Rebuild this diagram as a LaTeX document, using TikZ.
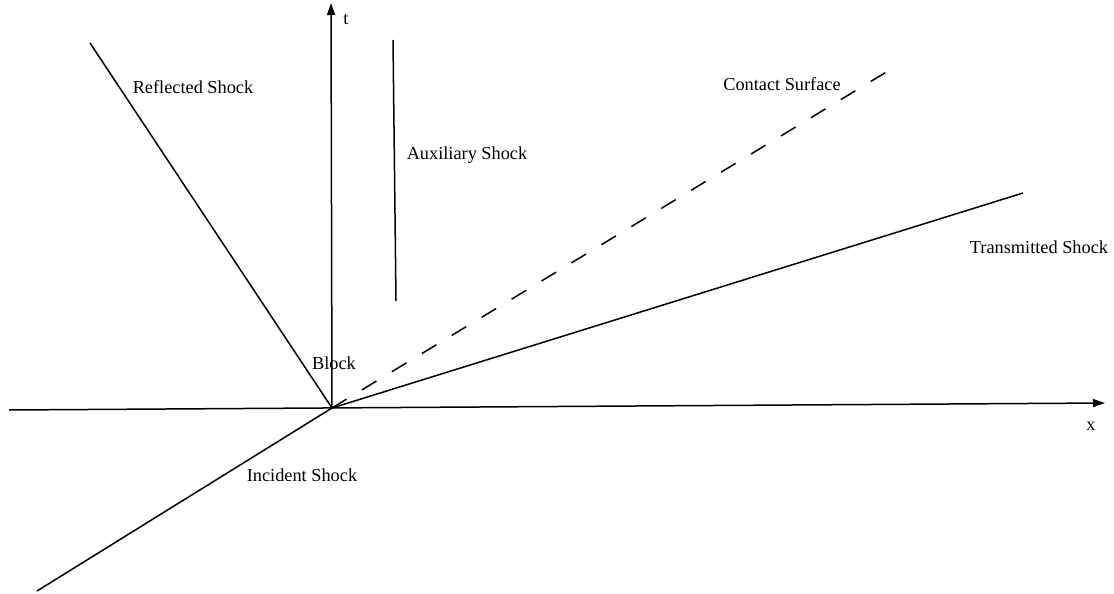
\documentclass[tikz,border=0pt]{standalone}
\usepackage{fontspec}
\setmainfont{Liberation Serif}
\usetikzlibrary{arrows.meta}
\begin{document}
\begin{tikzpicture}[x=1pt,y=-1pt,
  line/.style={line width=1.5pt,black},
  axis/.style={line, -{Triangle[length=12pt,width=8pt]}},
  lbl/.style={font=\fontsize{18.3}{20}\selectfont, inner sep=0pt},
  dashline/.style={line, dash pattern=on 17pt off 18pt}]
\useasboundingbox (0,0) rectangle (1114,594);
\coordinate (O) at (332,408);
\coordinate (xl) at (9,410);
\coordinate (xr) at (1105,403);
\coordinate (tt) at (331,3);
\coordinate (rs) at (90,43);
\coordinate (as1) at (393,40);
\coordinate (as2) at (396,301);
\coordinate (cs) at (888,71);
\coordinate (ts) at (1023,193);
\coordinate (is) at (37,591);
\draw[axis] (xl) -- (xr);
\draw[axis] (O) -- (tt);
\draw[line] (O) -- (rs);
\draw[line] (as1) -- (as2);
\draw[dashline] (O) -- (cs);
\draw[line] (O) -- (ts);
\draw[line] (is) -- (O);
\node[lbl] (lt) at (346,19) {t};
\node[lbl] (lx) at (1091,426) {x};
\node[lbl] (lrs) at (193,87) {Reflected Shock};
\node[lbl] (las) at (467,155) {Auxiliary Shock};
\node[lbl] (lcs) at (782,84) {Contact Surface};
\node[lbl] (lts) at (1039,247) {Transmitted Shock};
\node[lbl] (lbk) at (334,363) {Block};
\node[lbl] (lis) at (302,475) {Incident Shock};
\end{tikzpicture}
\end{document}
